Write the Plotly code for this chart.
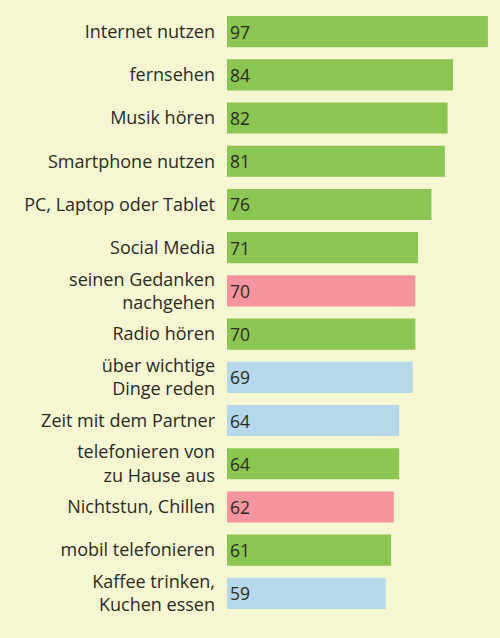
import plotly.graph_objects as go

# Freizeitaktivitäten, Angaben in Prozent
aktivitaeten = [
    "Internet nutzen",
    "fernsehen",
    "Musik hören",
    "Smartphone nutzen",
    "PC, Laptop oder Tablet",
    "Social Media",
    "seinen Gedanken<br>nachgehen",
    "Radio hören",
    "über wichtige<br>Dinge reden",
    "Zeit mit dem Partner",
    "telefonieren von<br>zu Hause aus",
    "Nichtstun, Chillen",
    "mobil telefonieren",
    "Kaffee trinken,<br>Kuchen essen",
]
werte = [97, 84, 82, 81, 76, 71, 70, 70, 69, 64, 64, 62, 61, 59]
gruppe = ["medien", "medien", "medien", "medien", "medien", "medien", "ruhe",
          "medien", "sozial", "sozial", "medien", "ruhe", "medien", "sozial"]

farben = {"medien": "#8bc653", "ruhe": "#f4949e", "sozial": "#b5d8ea"}
bg = "#f6f6d2"
textfarbe = "#2b2b22"

fig = go.Figure(go.Bar(
    x=werte,
    y=aktivitaeten,
    orientation="h",
    marker=dict(color=[farben[g] for g in gruppe], line=dict(width=0)),
    text=[str(w) for w in werte],
    textposition="inside",
    insidetextanchor="start",
    textfont=dict(family="Open Sans", size=17.5, color=textfarbe),
    hoverinfo="skip",
))

fig.update_layout(
    width=500,
    height=638,
    margin=dict(l=227, r=4, t=10, b=23),
    paper_bgcolor=bg,
    plot_bgcolor=bg,
    bargap=0.28,
    showlegend=False,
    font=dict(family="Open Sans", size=18, color=textfarbe),
)
fig.update_xaxes(range=[0, 100], visible=False, fixedrange=True)
fig.update_yaxes(
    autorange="reversed",
    showgrid=False,
    zeroline=False,
    showline=False,
    ticks="",
    ticklabelstandoff=11,
    tickfont=dict(family="Open Sans", size=18, color=textfarbe),
    fixedrange=True,
)

fig.write_html(
    "out.html",
    config={"displayModeBar": False},
    post_script="document.body.style.margin='0';document.body.style.background='%s';" % bg,
)
